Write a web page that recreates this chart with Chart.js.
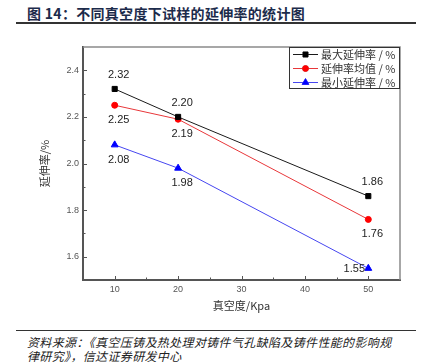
<!DOCTYPE html>
<html>
<head>
<meta charset="utf-8">
<script src="https://cdn.jsdelivr.net/npm/chart.js@4.4.1/dist/chart.umd.min.js"></script>
<style>
  body { margin: 0; background: #fff; }
  #wrap { position: relative; width: 430px; height: 363px; overflow: hidden; font-family: "Noto Sans CJK SC", sans-serif; }
  #chart1 { position: absolute; left: 0; top: 0; }
  .title { position: absolute; left: 27px; top: 4px; font-size: 14px; line-height: 18px; font-weight: bold; color: #1c2b4b; white-space: nowrap; letter-spacing: 0.3px; }
  .rule { position: absolute; left: 16px; width: 400px; background: #333; }
  .source { position: absolute; left: 27px; top: 335px; font-size: 12px; line-height: 14px; font-style: italic; color: #222; letter-spacing: 0.35px; white-space: nowrap; }
</style>
</head>
<body>
<div id="wrap">
  <div class="title">图 14：不同真空度下试样的延伸率的统计图</div>
  <div class="rule" style="top:22px;height:1.5px"></div>
  <canvas id="chart1" width="430" height="325"></canvas>
  <div class="rule" style="top:330px;height:1px"></div>
  <div class="source">资料来源：《真空压铸及热处理对铸件气孔缺陷及铸件性能的影响规<br>律研究》，信达证券研发中心</div>
</div>
<script>
// vacuum level (Kpa)
const vacuum = [10, 20, 50];
const seriesNames = ["最大延伸率 / %", "延伸率均值 / %", "最小延伸率 / %"];
const maxElong = [2.32, 2.20, 1.86];
const avgElong = [2.25, 2.19, 1.76];
const minElong = [2.08, 1.98, 1.55];

// where each value label sits relative to its point
const labelPlace = [
  ["top", "top", "top"],
  ["bottom", "bottom", "bottom"],
  ["bottom", "bottom", "left"],
];

const toPoints = (vals) => vals.map((v, i) => ({ x: vacuum[i], y: v }));

const inwardTicks = {
  id: "inwardTicks",
  afterDraw(chart) {
    const { ctx, chartArea: a } = chart;
    const xs = chart.scales.x, ys = chart.scales.y;
    ctx.save();
    // top and right frame
    ctx.strokeStyle = "#8a8a8a";
    ctx.lineWidth = 1.5;
    ctx.beginPath();
    ctx.moveTo(a.left, a.top);
    ctx.lineTo(a.right, a.top);
    ctx.lineTo(a.right, a.bottom);
    ctx.stroke();

    ctx.strokeStyle = "#555";
    ctx.lineWidth = 1;
    xs.ticks.forEach((t) => {
      if (t.value <= xs.min || t.value >= xs.max) return;
      const px = Math.round(xs.getPixelForValue(t.value)) + 0.5;
      const len = t.value % 10 === 0 ? 4 : 2.5;
      ctx.beginPath();
      ctx.moveTo(px, a.bottom);
      ctx.lineTo(px, a.bottom - len);
      ctx.stroke();
    });
    ys.ticks.forEach((t) => {
      if (t.value <= ys.min + 0.01 || t.value >= ys.max - 0.01) return;
      const py = Math.round(ys.getPixelForValue(t.value)) + 0.5;
      const len = Math.round(t.value * 10) % 2 === 0 ? 4 : 2.5;
      ctx.beginPath();
      ctx.moveTo(a.left, py);
      ctx.lineTo(a.left + len, py);
      ctx.stroke();
    });
    ctx.restore();
  },
};

const valueLabels = {
  id: "valueLabels",
  afterDatasetsDraw(chart) {
    const ctx = chart.ctx;
    ctx.save();
    ctx.font = '11px "Liberation Sans", Arial, sans-serif';
    ctx.fillStyle = "#222";
    ctx.textAlign = "center";
    ctx.textBaseline = "middle";
    chart.data.datasets.forEach((ds, di) => {
      chart.getDatasetMeta(di).data.forEach((pt, i) => {
        const place = labelPlace[di][i];
        let x = pt.x + 4, y = pt.y;
        if (place === "top") y -= 14;
        if (place === "bottom") y += 15;
        if (place === "left") { x = pt.x - 14; y += 1; }
        ctx.fillText(ds.data[i].y.toFixed(2), x, y);
      });
    });
    ctx.restore();
  },
};

const boxLegend = {
  id: "boxLegend",
  afterDraw(chart) {
    const { ctx, chartArea: a } = chart;
    const w = 111, h = 42;
    const left = a.right - w, top = a.top;
    ctx.save();
    ctx.fillStyle = "#fff";
    ctx.fillRect(left, top, w, h);
    ctx.strokeStyle = "#333";
    ctx.lineWidth = 1;
    ctx.strokeRect(left + 0.5, top + 0.5, w - 1, h - 1);
    ctx.font = '11px "Noto Sans CJK SC", sans-serif';
    ctx.textBaseline = "middle";
    chart.data.datasets.forEach((ds, i) => {
      const y = top + 7.5 + i * 14;
      ctx.strokeStyle = ds.borderColor;
      ctx.lineWidth = 1;
      ctx.beginPath();
      ctx.moveTo(left + 4, y);
      ctx.lineTo(left + 29, y);
      ctx.stroke();
      Chart.helpers.drawPoint(ctx, {
        pointStyle: ds.pointStyle, radius: ds.pointRadius, borderWidth: 1, rotation: 0,
      }, left + 16.5, y);
      ctx.fillStyle = ds.pointBackgroundColor;
      ctx.fill();
      ctx.fillStyle = "#333";
      ctx.fillText(ds.label, left + 32, y);
    });
    ctx.restore();
  },
};

new Chart(document.getElementById("chart1"), {
  type: "line",
  data: {
    datasets: [
      {
        label: seriesNames[0], data: toPoints(maxElong),
        borderColor: "#1a1a1a", pointBackgroundColor: "#000", pointBorderColor: "#000",
        pointStyle: "rect", pointRadius: 3.6,
      },
      {
        label: seriesNames[1], data: toPoints(avgElong),
        borderColor: "#e8373a", pointBackgroundColor: "#f00", pointBorderColor: "#f00",
        pointStyle: "circle", pointRadius: 3,
      },
      {
        label: seriesNames[2], data: toPoints(minElong),
        borderColor: "#4646f0", pointBackgroundColor: "#0000ff", pointBorderColor: "#0000ff",
        pointStyle: "triangle", pointRadius: 4,
      },
    ],
  },
  options: {
    responsive: false,
    devicePixelRatio: 1,
    animation: false,
    layout: { padding: { top: 47, right: 30, left: 0, bottom: 0 } },
    elements: { line: { borderWidth: 1, tension: 0 }, point: { borderWidth: 1 } },
    plugins: { legend: { display: false }, tooltip: { enabled: false } },
    scales: {
      x: {
        type: "linear", min: 5, max: 55,
        afterFit: (s) => { s.height = 45; },
        ticks: {
          stepSize: 5, padding: 4, color: "#555", autoSkip: false, maxRotation: 0,
          font: { family: '"Liberation Sans", Arial, sans-serif', size: 9 },
          callback: (v) => (v % 10 === 0 && v > 5 && v < 55 ? String(v) : ""),
        },
        grid: { display: true, drawOnChartArea: false, drawTicks: false },
        border: { display: true, color: "#555", width: 2 },
        title: {
          display: true, text: "真空度/Kpa", color: "#333",
          font: { family: '"Noto Sans CJK SC", sans-serif', size: 11 },
          padding: { top: 0, bottom: 13 },
        },
      },
      y: {
        min: 1.5, max: 2.5,
        afterFit: (s) => { s.width = 83; },
        ticks: {
          stepSize: 0.1, padding: 4, color: "#555", autoSkip: false,
          font: { family: '"Liberation Sans", Arial, sans-serif', size: 9 },
          callback: (v) => {
            const k = Math.round(v * 10);
            return k % 2 === 0 && k > 15 && k < 25 ? (k / 10).toFixed(1) : "";
          },
        },
        grid: { display: true, drawOnChartArea: false, drawTicks: false },
        border: { display: true, color: "#555", width: 2 },
        title: {
          display: true, text: "延伸率/%", color: "#333",
          font: { family: '"Noto Sans CJK SC", sans-serif', size: 11 },
          padding: { top: 38, bottom: 0 },
        },
      },
    },
  },
  plugins: [inwardTicks, valueLabels, boxLegend],
});
</script>
</body>
</html>
